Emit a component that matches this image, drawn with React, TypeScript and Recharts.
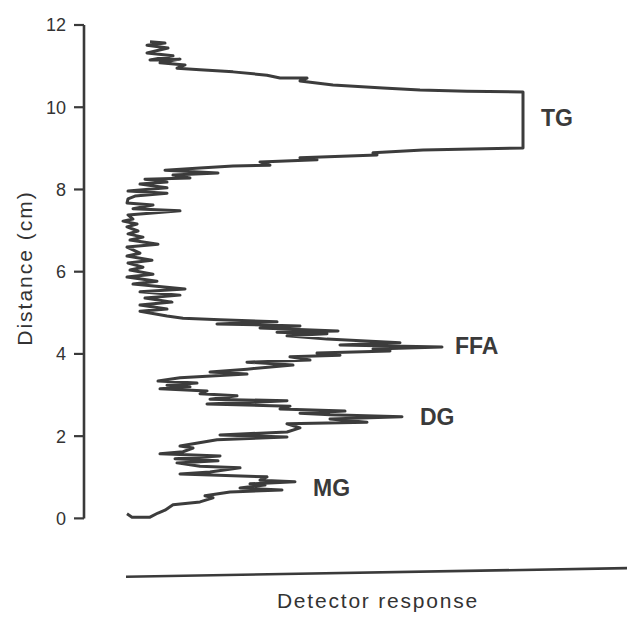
import React from 'react';
import { LineChart, Line, XAxis, YAxis, ReferenceLine, ReferenceDot } from 'recharts';

const distance = [
  0.11, 0.03, 0.03, 0.13, 0.2, 0.33, 0.4, 0.5, 0.55, 0.64,
  0.69, 0.74, 0.81, 0.84, 0.89, 0.93, 1.01, 1.08, 1.13, 1.23,
  1.27, 1.35, 1.4, 1.45, 1.52, 1.57, 1.62, 1.71, 1.76, 1.91,
  1.98, 2.03, 2.1, 2.2, 2.3, 2.34, 2.42, 2.47, 2.52, 2.56,
  2.61, 2.66, 2.73, 2.78, 2.86, 2.9, 2.98, 3.03, 3.1, 3.15,
  3.2, 3.24, 3.29, 3.34, 3.42, 3.51, 3.56, 3.63, 3.73, 3.8,
  3.85, 3.93, 3.97, 4.02, 4.07, 4.12, 4.17, 4.22, 4.27, 4.36,
  4.44, 4.49, 4.53, 4.56, 4.63, 4.68, 4.73, 4.78, 4.83, 4.87,
  4.92, 5.04, 5.09, 5.19, 5.26, 5.36, 5.43, 5.51, 5.58, 5.7,
  5.77, 5.87, 5.94, 6.04, 6.11, 6.21, 6.28, 6.38, 6.45, 6.6,
  6.67, 6.77, 6.84, 6.92, 6.99, 7.09, 7.16, 7.23, 7.28, 7.38,
  7.48, 7.53, 7.62, 7.67, 7.77, 7.84, 7.91, 7.96, 8.04, 8.13,
  8.18, 8.25, 8.28, 8.35, 8.4, 8.47, 8.52, 8.57, 8.59, 8.67,
  8.72, 8.77, 8.84, 8.89, 8.96, 8.98, 9.01, 10.37, 10.39, 10.42,
  10.47, 10.54, 10.64, 10.71, 10.71, 10.78, 10.86, 10.91, 10.95, 11.03,
  11.08, 11.17, 11.15, 11.25, 11.32, 11.44, 11.51, 11.56, 11.59,
];

// Detector response (arbitrary units) at each distance
const response = [
  8.6, 9.6, 13.2, 14.8, 16.2, 17.8, 23.2, 25.8, 24.2, 29.2,
  39.6, 31.2, 36.2, 33.2, 42.2, 35.2, 36.6, 19.2, 25.2, 31.2,
  23.2, 18.6, 26.8, 18.2, 27.2, 15.2, 19.8, 21.8, 19.2, 26.6,
  40.6, 27.2, 40.6, 43.2, 40.6, 56.6, 49.2, 63.6, 49.2, 43.2,
  52.2, 39.2, 41.2, 24.6, 40.6, 25.2, 30.6, 23.2, 24.6, 15.2,
  21.2, 16.6, 22.6, 14.8, 19.2, 32.6, 25.2, 32.6, 41.8, 32.6,
  45.2, 41.2, 51.2, 46.6, 61.2, 57.8, 71.6, 51.2, 63.2, 48.6,
  40.6, 48.6, 38.6, 50.8, 35.2, 43.2, 26.6, 38.6, 27.2, 19.8,
  16.6, 11.2, 16.6, 11.2, 17.6, 12.2, 19.2, 11.2, 20.2, 9.8,
  14.6, 8.6, 13.8, 9.2, 11.8, 8.8, 13.6, 8.6, 11.2, 8.6,
  14.8, 9.2, 11.8, 8.8, 10.8, 8.6, 10.6, 7.8, 9.8, 8.8,
  19.2, 9.8, 13.8, 8.6, 8.8, 10.2, 16.6, 8.8, 16.6, 11.2,
  16.6, 12.2, 21.2, 17.8, 26.8, 16.2, 23.2, 29.8, 37.2, 35.2,
  46.6, 43.2, 58.6, 57.8, 67.8, 75.2, 87.8, 87.8, 76.6, 67.2,
  59.8, 49.8, 43.2, 44.6, 39.2, 36.6, 29.8, 23.2, 18.6, 20.2,
  15.2, 19.2, 13.2, 17.8, 12.6, 16.8, 12.6, 16.2, 13.2,
];

const yTicks = [0, 2, 4, 6, 8, 10, 12];

// Peak names and where their labels sit (response, distance)
const peakNames = ['TG', 'FFA', 'DG', 'MG'];
const peakResponse = [91.4, 74.2, 67.2, 45.8];
const peakDistance = [9.74, 4.19, 2.47, 0.74];

const data = distance.map((d, i) => ({ d, r: response[i] }));

const INK = '#3a3a3a';
const FONT = '"Liberation Sans", Arial, Helvetica, sans-serif';

export default function App() {
  return (
    <div style={{ position: 'absolute', left: 0, top: 0, width: 627, height: 619, background: '#fff' }}>
      <LineChart
        width={627}
        height={619}
        data={data}
        layout="vertical"
        margin={{ top: 25, right: 0, bottom: 41, left: 0 }}
      >
        <XAxis type="number" dataKey="r" domain={[0, 108.6]} allowDataOverflow hide />
        <YAxis
          type="number"
          dataKey="d"
          domain={[-1.45, 12]}
          reversed
          allowDataOverflow
          ticks={yTicks}
          interval={0}
          width={84}
          axisLine={false}
          tickLine={{ stroke: INK, strokeWidth: 2.2 }}
          tickSize={10}
          tickMargin={8}
          tick={{ fill: '#333', fontSize: 18, fontFamily: FONT }}
          label={() => (
            <text
              x={32}
              y={268}
              transform="rotate(-90 32 268)"
              textAnchor="middle"
              fill="#333"
              fontSize={21}
              fontFamily={FONT}
              letterSpacing={2}
            >
              Distance (cm)
            </text>
          )}
        />
        <ReferenceLine
          segment={[{ x: 0, y: 0 }, { x: 0, y: 12 }]}
          stroke={INK}
          strokeWidth={2.6}
        />
        <ReferenceLine
          segment={[{ x: 8.4, y: -1.42 }, { x: 108.6, y: -1.21 }]}
          stroke={INK}
          strokeWidth={2.6}
          label={() => (
            <text
              x={378}
              y={608}
              textAnchor="middle"
              fill="#333"
              fontSize={21}
              fontFamily={FONT}
              letterSpacing={1.8}
            >
              Detector response
            </text>
          )}
        />
        <Line
          type="linear"
          dataKey="r"
          stroke="#3c3c3c"
          strokeWidth={3}
          strokeLinejoin="round"
          dot={false}
          activeDot={false}
          isAnimationActive={false}
        />
        {peakNames.map((name, i) => (
          <ReferenceDot
            key={name}
            x={peakResponse[i]}
            y={peakDistance[i]}
            r={0}
            stroke="none"
            fill="none"
            label={{
              value: name,
              position: 'right',
              offset: 0,
              fill: INK,
              fontSize: 23,
              fontWeight: 'bold',
              fontFamily: FONT,
            }}
          />
        ))}
      </LineChart>
    </div>
  );
}
